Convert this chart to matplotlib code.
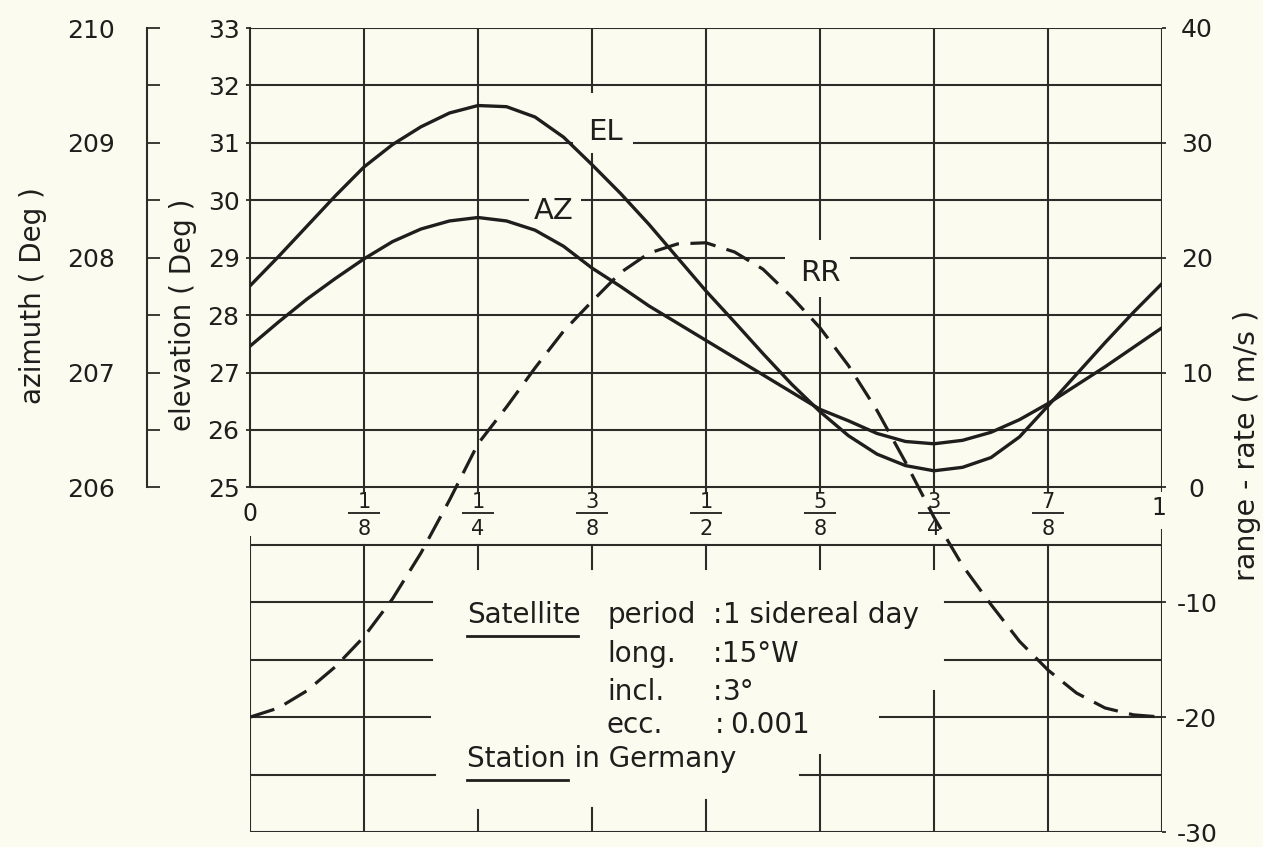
import matplotlib
matplotlib.use("Agg")
import matplotlib.pyplot as plt
from matplotlib.patches import Rectangle
from matplotlib.lines import Line2D

# ---------------- data ----------------
phase = [0.0, 0.03125, 0.0625, 0.09375, 0.125, 0.15625, 0.1875, 0.21875,
         0.25, 0.28125, 0.3125, 0.34375, 0.375, 0.40625, 0.4375, 0.46875,
         0.5, 0.53125, 0.5625, 0.59375, 0.625, 0.65625, 0.6875, 0.71875,
         0.75, 0.78125, 0.8125, 0.84375, 0.875, 0.90625, 0.9375, 0.96875, 1.0]

elevation = [28.51, 29.02, 29.55, 30.08, 30.58, 30.97, 31.28, 31.52,
             31.65, 31.63, 31.45, 31.10, 30.62, 30.12, 29.58, 29.00,
             28.42, 27.88, 27.33, 26.80, 26.32, 25.90, 25.58, 25.38,
             25.29, 25.35, 25.52, 25.88, 26.42, 26.97, 27.52, 28.05, 28.55]

azimuth = [207.23, 207.44, 207.64, 207.82, 207.99, 208.14, 208.25, 208.32,
           208.35, 208.32, 208.24, 208.10, 207.91, 207.75, 207.58, 207.43,
           207.28, 207.13, 206.98, 206.83, 206.68, 206.58, 206.47, 206.40,
           206.38, 206.41, 206.48, 206.59, 206.73, 206.89, 207.05, 207.22, 207.39]

range_rate = [-20.0, -19.2, -17.7, -15.6, -13.0, -9.7, -5.7, -1.1,
              3.8, 7.0, 10.4, 13.6, 16.2, 18.7, 20.4, 21.2,
              21.3, 20.5, 19.0, 16.6, 13.9, 10.6, 6.7, 2.2,
              -2.6, -6.8, -10.2, -13.4, -15.9, -17.9, -19.2, -19.8, -20.0]

el_ticks = [25, 26, 27, 28, 29, 30, 31, 32, 33]
az_major = [206, 207, 208, 209, 210]
az_minor = [206.5, 207.5, 208.5, 209.5]
rr_ticks = [-30, -20, -10, 0, 10, 20, 30, 40]
rr_ticklabels = ["-30", "-20", "-10", "0", "10", "20", "30", "40"]

frac_pos = [0.125, 0.25, 0.375, 0.5, 0.625, 0.75, 0.875]
frac_num = ["1", "1", "3", "1", "5", "3", "7"]
frac_den = ["8", "4", "8", "2", "8", "4", "8"]

sat_keys = ["period", "long.", "incl.", "ecc."]
sat_vals = ["1 sidereal day", "15°W", "3°", "0.001"]

# ---------------- layout helpers (pixels of the 1263x847 canvas) -------------
W, H = 1263, 847
BG = "#fcfbef"
INK = "#1e1e1c"
GRID = "#2c2c28"
LW = 1.5


def fx(px):
    return px / W


def fy(py):
    return 1 - py / H


L_PX, R_PX, T_PX, B_PX = 250, 1162, 28, 832

fig = plt.figure(figsize=(W / 100, H / 100), dpi=100, facecolor=BG)

# main axes: range-rate scale (-30 .. 40), right axis
ax = fig.add_axes([fx(L_PX), fy(B_PX), (R_PX - L_PX) / W, (B_PX - T_PX) / H])
ax.set_xlim(0, 1)
ax.set_ylim(-30, 40)
ax.patch.set_visible(False)
for s in ax.spines.values():
    s.set_visible(False)
ax.set_xticks([])
ax.yaxis.tick_right()
ax.set_yticks(rr_ticks)
ax.set_yticklabels(rr_ticklabels)
ax.tick_params(axis="y", right=True, left=False, labelright=True, labelleft=False,
               direction="out", length=3, width=1.3, color=GRID, pad=22,
               labelsize=18, labelcolor=INK)
plt.setp(ax.get_yticklabels(), ha="center")

# upper region (elevation / azimuth)
pos = ax.get_position()
ub = pos.y0 + pos.height * 30 / 70
uh = pos.height * 40 / 70

ax_el = fig.add_axes([pos.x0, ub, pos.width, uh])
ax_el.set_xlim(0, 1)
ax_el.set_ylim(25, 33)
ax_el.patch.set_visible(False)
for k, s in ax_el.spines.items():
    s.set_visible(k == "left")
ax_el.spines["left"].set_linewidth(LW)
ax_el.spines["left"].set_color(GRID)
ax_el.set_xticks([])
ax_el.set_yticks(el_ticks)
ax_el.tick_params(axis="y", direction="out", length=3, width=1.3, color=GRID,
                  pad=4.5, labelsize=18, labelcolor=INK)

ax_az = fig.add_axes([pos.x0, ub, pos.width, uh])
ax_az.set_xlim(0, 1)
ax_az.set_ylim(206, 210)
ax_az.patch.set_visible(False)
for k, s in ax_az.spines.items():
    s.set_visible(k == "left")
ax_az.spines["left"].set_position(("outward", (L_PX - 147) * 0.72))
ax_az.spines["left"].set_linewidth(LW)
ax_az.spines["left"].set_color(GRID)
ax_az.set_xticks([])
ax_az.set_yticks(az_major)
ax_az.set_yticks(az_minor, minor=True)
ax_az.tick_params(axis="y", which="both", direction="in", length=9.5, width=1.3,
                  color=GRID, pad=23, labelsize=18, labelcolor=INK)

# ---------------- grid / frame ----------------
gkw = dict(colors=GRID, lw=LW, zorder=1, capstyle="projecting")
# upper box
for v in [0, 5, 10, 15, 20, 25, 30, 35, 40]:
    ax.hlines(v, 0, 1, **gkw)
for xv in frac_pos:
    ax.vlines(xv, -0.35, 40, **gkw)
ax.vlines(1, -0.35, 40, **gkw)
# lower box frame
ax.hlines(-5, 0, 1, **gkw)
ax.hlines(-30, 0, 1, **gkw)
ax.vlines(0, -30, -4.3, **gkw)
ax.vlines(1, -30, -3.7, **gkw)
# lower horizontal lines, interrupted by the text block
for v, xl, xr in [(-10, 0.200, 0.762), (-15, 0.200, 0.762),
                  (-20, 0.197, 0.691), (-25, 0.203, 0.603)]:
    ax.hlines(v, 0, xl, **gkw)
    ax.hlines(v, xr, 1, **gkw)
# lower verticals
ax.vlines(0.125, -30, -5, **gkw)
ax.vlines(0.875, -30, -5, **gkw)
for xv, ybot in [(0.25, -28.1), (0.375, -27.9), (0.5, -27.2),
                 (0.625, -23.3), (0.75, -17.7)]:
    ax.vlines(xv, -7.1, -5, **gkw)
    ax.vlines(xv, -30, ybot, **gkw)

# ---------------- curve labels with blank patches ----------------
def blank(x0, y0, x1, y1):
    ax.add_patch(Rectangle((fx(x0), fy(y1)), (x1 - x0) / W, (y1 - y0) / H,
                           transform=fig.transFigure, facecolor=BG,
                           edgecolor="none", zorder=2.5))


blank(573, 93, 633, 153)
ax.text(fx(588), fy(140), "EL", transform=fig.transFigure, fontsize=21,
        color=INK, ha="left", va="baseline", zorder=3)
blank(529, 188, 581, 204)
ax.text(fx(534), fy(219), "AZ", transform=fig.transFigure, fontsize=21,
        color=INK, ha="left", va="baseline", zorder=3)
blank(785, 240, 850, 297)
ax.text(fx(800), fy(281), "RR", transform=fig.transFigure, fontsize=21,
        color=INK, ha="left", va="baseline", zorder=3)

# ---------------- curves ----------------
ax.plot(phase, range_rate, color=INK, lw=2.3, linestyle=(0, (8, 3.6)),
        zorder=4, dash_capstyle="butt", dash_joinstyle="round")
ax_el.plot(phase, elevation, color=INK, lw=2.4, zorder=5,
           solid_joinstyle="round", solid_capstyle="round")
ax_az.plot(phase, azimuth, color=INK, lw=2.4, zorder=5,
           solid_joinstyle="round", solid_capstyle="round")

# ---------------- x fraction labels ----------------
for xv, n, d in zip(frac_pos, frac_num, frac_den):
    ax.text(xv, -1.27, n, fontsize=15, color=INK, ha="center", va="center",
            zorder=3)
    ax.plot([xv - 0.0175, xv + 0.0175], [-2.26, -2.26], color=INK, lw=1.3,
            zorder=3, solid_capstyle="butt")
    ax.text(xv, -3.62, d, fontsize=15, color=INK, ha="center", va="center",
            zorder=3)
ax.text(0.0, -2.35, "0", fontsize=17, color=INK, ha="center", va="center")
ax.text(0.997, -1.8, "1", fontsize=17, color=INK, ha="center", va="center")

# ---------------- axis titles ----------------
fig.text(fx(33), fy(296), "azimuth ( Deg )", rotation=90, fontsize=20,
         color=INK, ha="center", va="center")
fig.text(fx(183), fy(315), "elevation ( Deg )", rotation=90, fontsize=20,
         color=INK, ha="center", va="center")
fig.text(fx(1247), fy(445), "range - rate ( m/s )", rotation=90, fontsize=20.5,
         color=INK, ha="center", va="center")

# ---------------- satellite text block ----------------
tkw = dict(transform=fig.transFigure, fontsize=20, color=INK,
           ha="left", va="baseline", zorder=3)
ax.text(fx(467), fy(623), "Satellite", **tkw)
ax.add_line(Line2D([fx(467), fx(578)], [fy(636), fy(636)],
                   transform=fig.transFigure, color=INK, lw=2.0))
baselines = [623, 662, 700, 733]
colon_x = [713, 713, 713, 715]
val_x = [723, 722, 723, 730]
for key, val, yb, cx, vx in zip(sat_keys, sat_vals, baselines, colon_x, val_x):
    ax.text(fx(607), fy(yb), key, **tkw)
    ax.text(fx(cx), fy(yb), ":", **tkw)
    ax.text(fx(vx), fy(yb), val, **tkw)
ax.text(fx(467), fy(767), "Station in Germany", **tkw)
ax.add_line(Line2D([fx(467), fx(568)], [fy(780), fy(780)],
                   transform=fig.transFigure, color=INK, lw=2.0))

fig.savefig("out.png", dpi=100, facecolor=BG)
